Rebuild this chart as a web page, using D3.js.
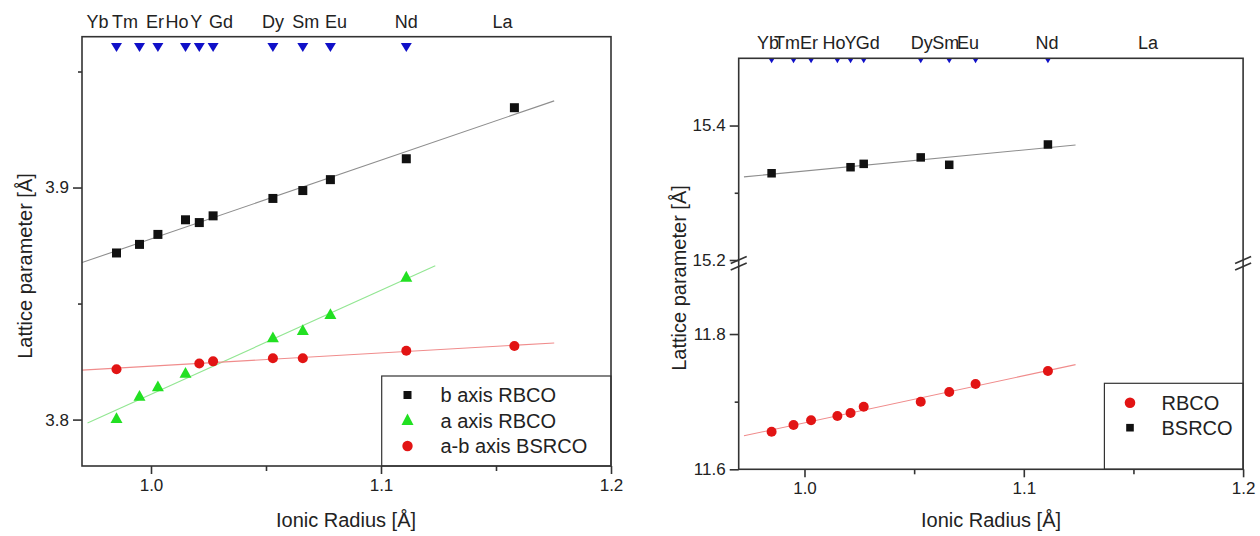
<!DOCTYPE html>
<html>
<head>
<meta charset="utf-8">
<script src="https://cdn.jsdelivr.net/npm/d3@7"></script>
<style>
  html, body { margin: 0; padding: 0; background: #fff; }
  svg { display: block; font-family: "Liberation Sans", Arial, sans-serif; }
</style>
</head>
<body>
<svg id="chart" width="1260" height="536"></svg>
<script>
// ---- data ----
const elements    = ["Yb", "Tm", "Er", "Ho", "Y", "Gd", "Dy", "Sm", "Eu", "Nd", "La"];
const ionicRadius = [0.985, 0.995, 1.003, 1.015, 1.021, 1.027, 1.053, 1.066, 1.078, 1.111, 1.158];
const markedElements = ["Yb", "Tm", "Er", "Ho", "Y", "Gd", "Dy", "Sm", "Eu", "Nd"];

// in-plane lattice parameters (Å), null where not measured
const bAxisRBCO   = [3.8718, 3.8755, 3.8798, 3.8861, 3.8849, 3.8878, 3.8953, 3.8987, 3.9034, 3.9124, 3.9344];
const aAxisRBCO   = [3.8004, 3.8100, 3.8141, 3.8199, null, null, 3.8352, 3.8383, 3.8452, 3.8613, null];
const abAxisBSRCO = [3.8217, null, null, null, 3.8242, 3.8251, 3.8264, 3.8264, null, 3.8297, 3.8317];

// c-axis lattice parameters (Å)
const cAxisRBCO  = [11.6556, 11.6655, 11.6724, 11.6788, 11.6832, 11.6925, 11.6999, 11.7143, 11.7260, 11.7453, null];
const cAxisBSRCO = [15.3290, null, null, null, 15.3380, 15.3430, 15.3526, 15.3416, null, 15.3718, null];

const xTicks      = [1.0, 1.1, 1.2];
const xMinorTicks = [1.05, 1.15];
const leftYTicks  = [3.8, 3.9];
const leftYMinor  = [3.85, 3.95];
const upperYTicks = [15.2, 15.4];
const upperYMinor = [15.3];
const lowerYTicks = [11.6, 11.8];
const lowerYMinor = [11.7];

const leftLegend  = ["b axis RBCO", "a axis RBCO", "a-b axis BSRCO"];
const rightLegend = ["RBCO", "BSRCO"];

// ---- styling ----
const INK = "#222";
const FRAME = "#333";
const BLACK = "#111";
const GREEN = "#22e022";
const RED = "#e21414";
const BLUE = "#1010c8";

const svg = d3.select("#chart");
svg.append("rect").attr("width", 1260).attr("height", 536).attr("fill", "#fff");

// least-squares line through the present points, drawn a little past the data
function linearFit(xs, ys) {
  const pts = xs.map((x, i) => [x, ys[i]]).filter(p => p[1] != null);
  const n = pts.length;
  const mx = d3.mean(pts, p => p[0]), my = d3.mean(pts, p => p[1]);
  let sxy = 0, sxx = 0;
  pts.forEach(([x, y]) => { sxy += (x - mx) * (y - my); sxx += (x - mx) * (x - mx); });
  const m = sxy / sxx, b = my - m * mx;
  const [lo, hi] = d3.extent(pts, p => p[0]);
  const pad = (hi - lo) * 0.1;
  return { f: x => m * x + b, x0: lo - pad, x1: hi + pad, n };
}

function drawFit(g, x, y, xs, ys, color, xmin, xmax) {
  const fit = linearFit(xs, ys);
  const a = Math.max(fit.x0, xmin), b = Math.min(fit.x1, xmax);
  g.append("line")
    .attr("x1", x(a)).attr("y1", y(fit.f(a)))
    .attr("x2", x(b)).attr("y2", y(fit.f(b)))
    .attr("stroke", color).attr("stroke-width", 1.1);
}

function points(xs, ys) {
  return xs.map((x, i) => ({ x, y: ys[i] })).filter(d => d.y != null);
}

function drawSquares(g, x, y, ys, size, color) {
  g.selectAll(null).data(points(ionicRadius, ys)).join("rect")
    .attr("x", d => x(d.x) - size / 2).attr("y", d => y(d.y) - size / 2)
    .attr("width", size).attr("height", size).attr("fill", color);
}
function drawCircles(g, x, y, ys, r, color) {
  g.selectAll(null).data(points(ionicRadius, ys)).join("circle")
    .attr("cx", d => x(d.x)).attr("cy", d => y(d.y)).attr("r", r).attr("fill", color);
}
function drawTriangles(g, x, y, ys, w, color) {
  const h = w * 0.9;
  g.selectAll(null).data(points(ionicRadius, ys)).join("path")
    .attr("d", d => {
      const cx = x(d.x), cy = y(d.y);
      return `M${cx},${cy - h * 0.6}L${cx + w / 2},${cy + h * 0.4}L${cx - w / 2},${cy + h * 0.4}Z`;
    })
    .attr("fill", color);
}

function styleAxis(g) {
  g.select(".domain").remove();
  g.selectAll(".tick line").attr("stroke", FRAME).attr("stroke-width", 1.6);
  g.selectAll(".tick text").attr("fill", INK).attr("font-size", 17)
    .attr("font-family", "Liberation Sans, Arial, sans-serif");
}

function xAxes(g, x, yBase) {
  g.append("g").attr("transform", `translate(0,${yBase})`)
    .call(d3.axisBottom(x).tickValues(xTicks).tickFormat(d3.format(".1f")).tickSize(8).tickPadding(5))
    .call(styleAxis);
  g.append("g").attr("transform", `translate(0,${yBase})`)
    .call(d3.axisBottom(x).tickValues(xMinorTicks).tickFormat("").tickSize(5))
    .call(styleAxis);
}

function yAxes(g, y, xBase, major, minor) {
  g.append("g").attr("transform", `translate(${xBase},0)`)
    .call(d3.axisLeft(y).tickValues(major).tickFormat(d3.format(".1f")).tickSize(9).tickPadding(4))
    .call(styleAxis);
  g.append("g").attr("transform", `translate(${xBase},0)`)
    .call(d3.axisLeft(y).tickValues(minor).tickFormat("").tickSize(4))
    .call(styleAxis);
}

function elementLabels(g, x, baseline, nudges, tri) {
  g.selectAll(null).data(elements).join("text")
    .attr("x", (d, i) => x(ionicRadius[i]) + nudges[i])
    .attr("y", baseline)
    .attr("text-anchor", "middle")
    .attr("font-size", 18).attr("fill", INK)
    .text(d => d);
  const marked = elements.map((e, i) => ({ e, r: ionicRadius[i] })).filter(d => markedElements.includes(d.e));
  g.selectAll(null).data(marked).join("path")
    .attr("d", d => {
      const cx = x(d.r);
      return `M${cx - tri.w / 2},${tri.top}L${cx + tri.w / 2},${tri.top}L${cx},${tri.top + tri.h}Z`;
    })
    .attr("fill", BLUE);
}

function axisTitles(g, xc, xBase, yc, yBase, size) {
  g.append("text").attr("x", xc).attr("y", xBase).attr("text-anchor", "middle")
    .attr("font-size", size).attr("fill", INK).text("Ionic Radius [Å]");
  g.append("text").attr("transform", `translate(${yBase},${yc}) rotate(-90)`)
    .attr("text-anchor", "middle").attr("font-size", size).attr("fill", INK)
    .text("Lattice parameter [Å]");
}

// ================= left panel: in-plane parameters =================
{
  const L = 82, R = 611, T = 36.7, B = 466;
  const x = d3.scaleLinear().domain([0.97, 1.2]).range([L, R]);
  const y = d3.scaleLinear().domain([3.78, 3.965]).range([B, T]);
  const g = svg.append("g");

  g.append("clipPath").attr("id", "clipL").append("rect")
    .attr("x", L).attr("y", T).attr("width", R - L).attr("height", B - T);
  const plot = g.append("g").attr("clip-path", "url(#clipL)");

  drawFit(plot, x, y, ionicRadius, bAxisRBCO, "#8e8e8e", 0.97, 1.2);
  drawFit(plot, x, y, ionicRadius, aAxisRBCO, "#92e692", 0.97, 1.2);
  drawFit(plot, x, y, ionicRadius, abAxisBSRCO, "#f08c8c", 0.97, 1.2);

  drawSquares(plot, x, y, bAxisRBCO, 9, BLACK);
  drawTriangles(plot, x, y, aAxisRBCO, 12, GREEN);
  drawCircles(plot, x, y, abAxisBSRCO, 5, RED);

  elementLabels(g, x, 28, [-19, -14.5, -3, -8.5, -3, 8, 0, 3, 5.5, 0, -12], { top: 43, h: 9, w: 11 });

  // legend
  const lg = g.append("g");
  lg.append("rect").attr("x", 381.7).attr("y", 376).attr("width", R - 381.7).attr("height", B - 376)
    .attr("fill", "#fff").attr("stroke", FRAME).attr("stroke-width", 1.2);
  const rows = [395, 420.5, 446];
  const mx = 407.5, tx = 440.5;
  lg.append("rect").attr("x", mx - 4).attr("y", rows[0] - 4).attr("width", 8).attr("height", 8).attr("fill", BLACK);
  lg.append("path").attr("d", `M${mx},${rows[1] - 7}L${mx + 6},${rows[1] + 4.5}L${mx - 6},${rows[1] + 4.5}Z`).attr("fill", GREEN);
  lg.append("circle").attr("cx", mx).attr("cy", rows[2]).attr("r", 5.2).attr("fill", RED);
  lg.selectAll(null).data(leftLegend).join("text")
    .attr("x", tx).attr("y", (d, i) => rows[i]).attr("dy", "0.36em")
    .attr("font-size", 20).attr("fill", INK).text(d => d);

  xAxes(g, x, B);
  yAxes(g, y, L, leftYTicks, leftYMinor);

  g.append("rect").attr("x", L).attr("y", T).attr("width", R - L).attr("height", B - T)
    .attr("fill", "none").attr("stroke", FRAME).attr("stroke-width", 1.6);

  axisTitles(g, 346, 527, 266, 32, 20);
}

// ================= right panel: c-axis parameters (broken y axis) =================
{
  const L = 738.7, R = 1243.1, T = 58.3, B = 469.3;
  const upperBottom = 260, lowerTop = 266.4;
  const x = d3.scaleLinear().domain([0.97, 1.2]).range([L, R]);
  const yU = d3.scaleLinear().domain([15.2, 15.5]).range([upperBottom, T]);
  const yL = d3.scaleLinear().domain([11.6, 11.9]).range([B, lowerTop]);
  const g = svg.append("g");

  drawFit(g, x, yU, ionicRadius, cAxisBSRCO, "#8e8e8e", 0.97, 1.2);
  drawFit(g, x, yL, ionicRadius, cAxisRBCO, "#f08c8c", 0.97, 1.2);
  drawSquares(g, x, yU, cAxisBSRCO, 8.5, BLACK);
  drawCircles(g, x, yL, cAxisRBCO, 5, RED);

  elementLabels(g, x, 49, [-3.6, -6.5, -2, -3.4, 0, 4, 1, -3.5, -7.5, -1, -3], { top: T, h: 5, w: 6 });

  // legend
  const lg = g.append("g");
  lg.append("rect").attr("x", 1104.4).attr("y", 383.3).attr("width", R - 1104.4).attr("height", B - 383.3)
    .attr("fill", "#fff").attr("stroke", FRAME).attr("stroke-width", 1.2);
  const rows = [402.7, 427.7];
  const mx = 1130, tx = 1161.5;
  lg.append("circle").attr("cx", mx).attr("cy", rows[0]).attr("r", 5.3).attr("fill", RED);
  lg.append("rect").attr("x", mx - 3.8).attr("y", rows[1] - 3.8).attr("width", 7.6).attr("height", 7.6).attr("fill", BLACK);
  lg.selectAll(null).data(rightLegend).join("text")
    .attr("x", tx).attr("y", (d, i) => rows[i]).attr("dy", "0.36em")
    .attr("font-size", 20).attr("fill", INK).text(d => d);

  xAxes(g, x, B);
  yAxes(g, yU, L, upperYTicks, upperYMinor);
  yAxes(g, yL, L, lowerYTicks, lowerYMinor);

  g.append("rect").attr("x", L).attr("y", T).attr("width", R - L).attr("height", B - T)
    .attr("fill", "none").attr("stroke", FRAME).attr("stroke-width", 1.6);

  // break marks on both vertical axes
  [L, R].forEach(ax => {
    [upperBottom, lowerTop].forEach(by => {
      g.append("line")
        .attr("x1", ax - 8).attr("y1", by + 3.5).attr("x2", ax + 8).attr("y2", by - 3.5)
        .attr("stroke", FRAME).attr("stroke-width", 1.6);
    });
  });

  axisTitles(g, 991, 527, 278, 686, 20);
}
</script>
</body>
</html>
